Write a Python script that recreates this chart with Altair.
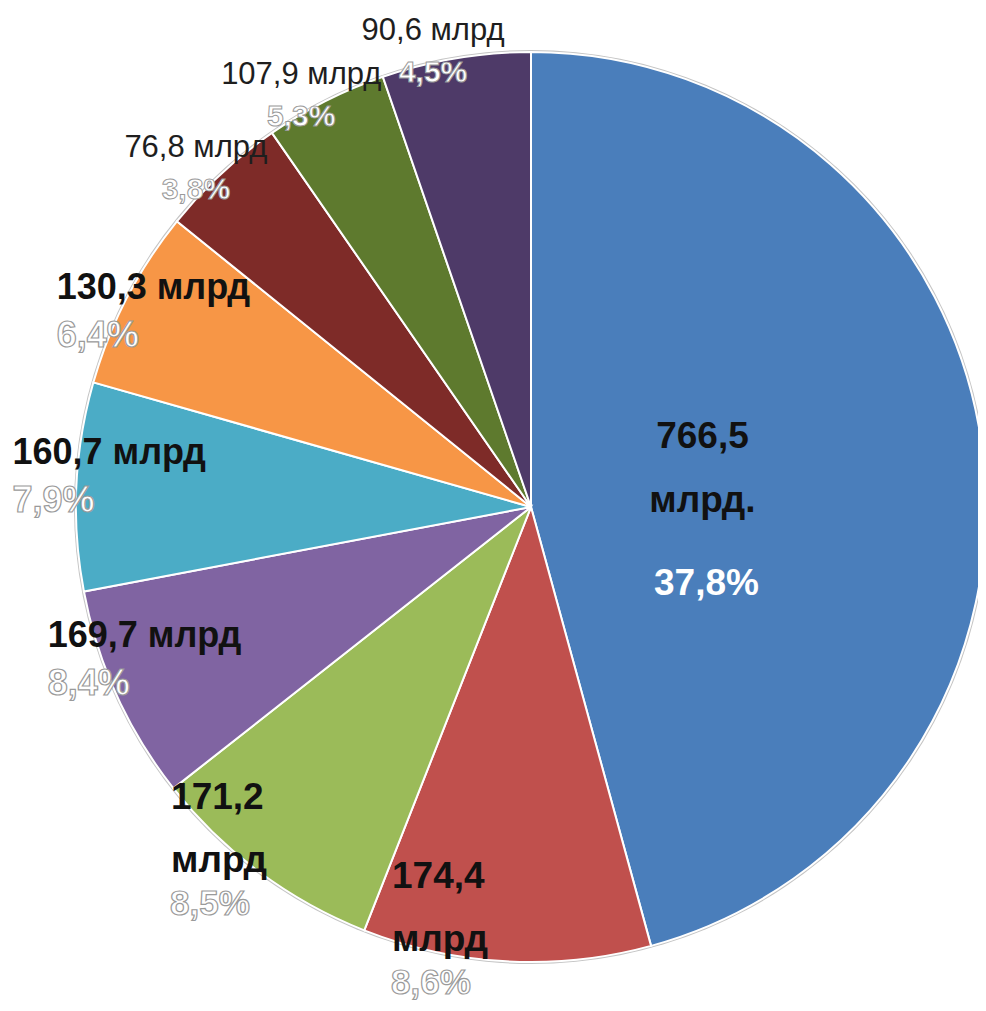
import altair as alt
import pandas as pd

# ---- data ----
slice_idx = [0, 1, 2, 3, 4, 5, 6, 7, 8]
values_mlrd = [766.5, 174.4, 171.2, 169.7, 160.7, 130.3, 76.8, 107.9, 90.6]
percents = [37.8, 8.6, 8.5, 8.4, 7.9, 6.4, 3.8, 5.3, 4.5]
# slice sizes as drawn in the picture (degrees of the circle)
slice_deg = [164.7, 36.8, 30.3, 27.5, 26.6, 23.0, 16.4, 15.7, 19.0]
value_labels = ["766,5\nмлрд.", "174,4\nмлрд", "171,2\nмлрд", "169,7 млрд", "160,7 млрд",
                "130,3 млрд", "76,8 млрд", "107,9 млрд", "90,6 млрд"]
pct_labels = [f"{p:.1f}".replace(".", ",") + "%" for p in percents]
colors = ["#4A7EBB", "#C0504D", "#9BBB59", "#8064A2", "#4BACC6",
          "#F79646", "#7E2B28", "#5E7A2E", "#4E3A68"]

df = pd.DataFrame({
    "idx": slice_idx,
    "value": values_mlrd,
    "share": slice_deg,
    "vlabel": value_labels,
    "plabel": pct_labels,
})

CX, CY = 523, 499
R = 455
FONT = "Liberation Sans"
theta_scale = alt.Scale(domain=[0, 360])

rim = alt.Chart(pd.DataFrame({"v": [1]})).mark_arc(
    radius=457, theta=0, theta2=6.2832, color="#c4c4c4"
).encode(x=alt.value(CX), y=alt.value(CY))

pie = alt.Chart(df).mark_arc(radius=R, stroke="white", strokeWidth=2).encode(
    theta=alt.Theta("share:Q", stack=True, scale=theta_scale),
    order=alt.Order("idx:Q"),
    color=alt.Color("idx:N", scale=alt.Scale(domain=slice_idx, range=colors), legend=None),
    x=alt.value(CX), y=alt.value(CY),
)

base = alt.Chart(df).transform_window(
    cum="sum(share)", sort=[alt.SortField("idx")], frame=[None, 0]
).transform_calculate(mid="datum.cum - datum.share / 2")


def group(ids):
    return base.transform_filter(alt.FieldOneOfPredicate(field="idx", oneOf=ids))


def enc(field):
    return dict(theta=alt.Theta("mid:Q", scale=theta_scale), text=alt.Text(f"{field}:N"),
                x=alt.value(CX), y=alt.value(CY))


PCT_STROKE = "#9a9a9a"
layers = [rim, pie]

# inside label (blue)
g = group([0])
layers.append(g.mark_text(radius=175, align="center", baseline="middle", dx=-2, dy=-47,
                          font=FONT, fontSize=37, fontWeight="bold", color="#111111",
                          lineBreak="\n", lineHeight=64).encode(**enc("vlabel")))
layers.append(g.mark_text(radius=175, align="center", baseline="middle", dx=2, dy=100,
                          font=FONT, fontSize=37, fontWeight="bold", color="white").encode(**enc("plabel")))

# three-line labels (red, green)
g = group([1, 2])
layers.append(g.mark_text(radius=407, align="left", baseline="middle", dx=-117, dy=-36,
                          font=FONT, fontSize=37, fontWeight="bold", color="#111111",
                          lineBreak="\n", lineHeight=63).encode(**enc("vlabel")))
layers.append(g.mark_text(radius=407, align="left", baseline="middle", dx=-118, dy=70,
                          font=FONT, fontSize=35, fontWeight="bold", fill="white",
                          stroke=PCT_STROKE, strokeWidth=1.2).encode(**enc("plabel")))

# left labels (purple, cyan, orange)
g = group([3, 4, 5])
layers.append(g.mark_text(radius=398, align="left", baseline="middle", dx=-121, dy=-36,
                          font=FONT, fontSize=36, fontWeight="bold", color="#111111").encode(**enc("vlabel")))
layers.append(g.mark_text(radius=398, align="left", baseline="middle", dx=-121, dy=12,
                          font=FONT, fontSize=36, fontWeight="bold", fill="white",
                          stroke=PCT_STROKE, strokeWidth=1.2).encode(**enc("plabel")))

# top labels (dark red, olive, dark purple)
g = group([6, 7, 8])
layers.append(g.mark_text(radius=460, align="center", baseline="middle", dx=-22, dy=-22,
                          font=FONT, fontSize=31, color="#1e1e1e").encode(**enc("vlabel")))
layers.append(g.mark_text(radius=460, align="center", baseline="middle", dx=-22, dy=20,
                          font=FONT, fontSize=30, fontWeight="bold", fill="white",
                          stroke=PCT_STROKE, strokeWidth=1.0).encode(**enc("plabel")))

chart = alt.layer(*layers).properties(
    width=970, height=995, padding=0, autosize="none", background="white"
).configure_view(stroke=None)

chart.save("out.html", embed_options={"renderer": "svg", "actions": False})
